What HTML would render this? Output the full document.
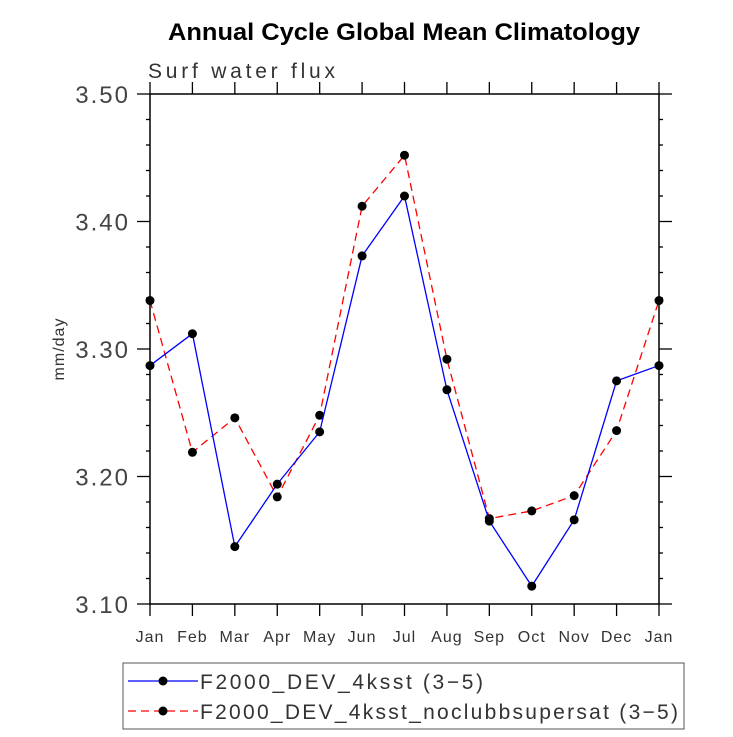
<!DOCTYPE html>
<html><head><meta charset="utf-8">
<style>
body{margin:0;background:#fff;}
svg{display:block;font-family:"Liberation Sans",sans-serif;}
</style></head>
<body>
<svg id="chart" width="733" height="737">
<text x="404" y="40" text-anchor="middle" font-size="24" font-weight="bold" textLength="472" lengthAdjust="spacingAndGlyphs">Annual Cycle Global Mean Climatology</text>
<text x="148" y="78" font-size="21" fill="#333" textLength="187" lengthAdjust="spacing">Surf water flux</text>
<text transform="translate(64,349) rotate(-90)" text-anchor="middle" font-size="16" fill="#333" letter-spacing="1">mm/day</text>
<g id="axes"></g>
<g id="series"></g>
<g>
<rect x="123" y="663" width="561" height="66" fill="none" stroke="#555" stroke-width="1"/>
<g>
<line x1="128" y1="681" x2="198" y2="681" stroke="#0000ff" stroke-width="1.3"/>
<circle cx="163" cy="681" r="4.5" fill="#000"/>
<text x="200" y="689" font-size="21" fill="#333" textLength="283" lengthAdjust="spacing">F2000_DEV_4ksst (3−5)</text>
</g>
<g>
<line x1="128" y1="711" x2="198" y2="711" stroke="#ff0000" stroke-width="1.3" stroke-dasharray="8,5"/>
<circle cx="163" cy="711" r="4.5" fill="#000"/>
<text x="200" y="719" font-size="21" fill="#333" textLength="478" lengthAdjust="spacing">F2000_DEV_4ksst_noclubbsupersat (3−5)</text>
</g>
</g>
</svg>
<script>
const months=["Jan","Feb","Mar","Apr","May","Jun","Jul","Aug","Sep","Oct","Nov","Dec","Jan"];
const blueValues=[3.287,3.312,3.145,3.194,3.235,3.373,3.420,3.268,3.165,3.114,3.166,3.275,3.287];
const redValues=[3.338,3.219,3.246,3.184,3.248,3.412,3.452,3.292,3.167,3.173,3.185,3.236,3.338];
const yTicks=[3.10,3.20,3.30,3.40,3.50];
const yTickLabels=["3.10","3.20","3.30","3.40","3.50"];
const NS="http://www.w3.org/2000/svg";
const X0=150,X1=659,Y0=604,Y1=94,YMIN=3.1,YMAX=3.5;
function xs(i){return X0+(X1-X0)*i/(months.length-1);}
function ys(v){return Y0-(v-YMIN)/(YMAX-YMIN)*(Y0-Y1);}
function mk(tag,attrs,parent){const e=document.createElementNS(NS,tag);for(const k in attrs)e.setAttribute(k,attrs[k]);parent.appendChild(e);return e;}
const ax=document.getElementById('axes');
const frame=mk('rect',{x:X0,y:Y1,width:X1-X0,height:Y0-Y1,fill:'none',stroke:'#000','stroke-width':1.5},ax);


for(let v=YMIN;v<=YMAX+1e-9;v+=0.02){
  const y=ys(v);const major=Math.abs(Math.round(v*10)-v*10)<1e-6;const L=major?13:4;
  mk('line',{x1:X0-L,y1:y,x2:X0,y2:y,stroke:'#000','stroke-width':1.3},ax);
  mk('line',{x1:X1,y1:y,x2:X1+L,y2:y,stroke:'#000','stroke-width':1.3},ax);
}
yTicks.forEach((v,i)=>{
  const t=mk('text',{x:X0-20,y:ys(v)+9,'text-anchor':'end','font-size':24,fill:'#444','letter-spacing':2},ax);
  t.textContent=yTickLabels[i];
  
  
});
months.forEach((m,i)=>{
  const x=xs(i);
  mk('line',{x1:x,y1:Y0,x2:x,y2:Y0+12,stroke:'#000','stroke-width':1.3},ax);
  mk('line',{x1:x,y1:Y1,x2:x,y2:Y1-12,stroke:'#000','stroke-width':1.3},ax);
  const t=mk('text',{x:x,y:642,'text-anchor':'middle','font-size':16,fill:'#333','letter-spacing':1},ax);
  t.textContent=m;
  
  
});
const sg=document.getElementById('series');
function drawSeries(vals,color,dash,name){
  const g=mk('g',{},sg);
  
  
  const pts=vals.map((v,i)=>xs(i)+','+ys(v)).join(' ');
  const pl=mk('polyline',{points:pts,fill:'none',stroke:color,'stroke-width':1.3,'stroke-dasharray':dash},g);
  
  
  vals.forEach((v,i)=>{
    const c=mk('circle',{cx:xs(i),cy:ys(v),r:4.5,fill:'#000'},g);
    
    
  });
}
drawSeries(redValues,'#ff0000','8,5','series-noclubbsupersat');
drawSeries(blueValues,'#0000ff','none','series-4ksst');
</script>
</body></html>
